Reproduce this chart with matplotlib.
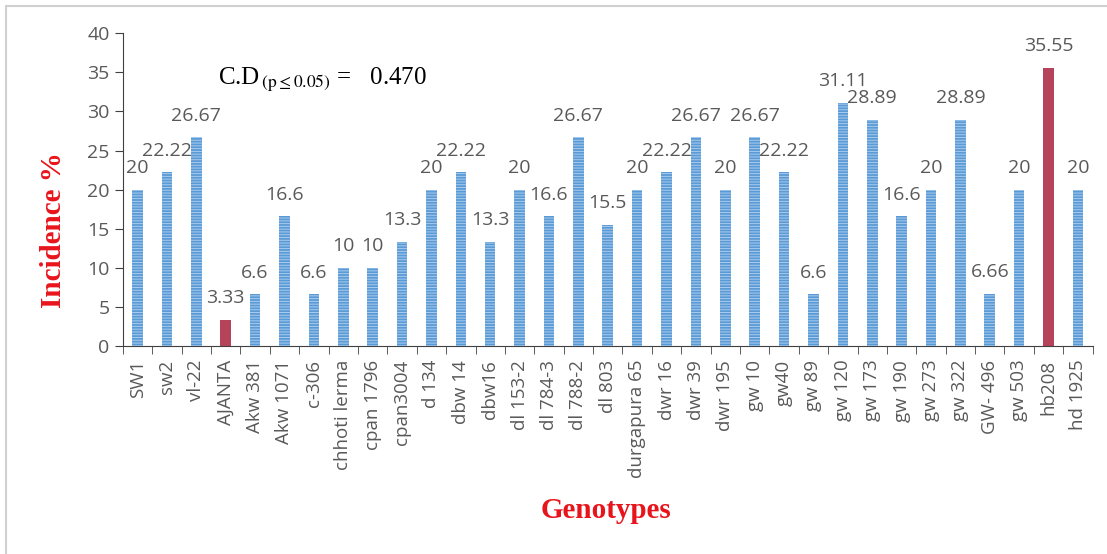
import matplotlib
matplotlib.use('Agg')
import matplotlib.pyplot as plt
from matplotlib.patches import Rectangle

genotypes = ['SW1', 'sw2', 'vl-22', 'AJANTA', 'Akw 381', 'Akw 1071', 'c-306',
             'chhoti lerma', 'cpan 1796', 'cpan3004', 'd 134', 'dbw 14', 'dbw16',
             'dl 153-2', 'dl 784-3', 'dl 788-2', 'dl 803', 'durgapura 65', 'dwr 16',
             'dwr 39', 'dwr 195', 'gw 10', 'gw40', 'gw 89', 'gw 120', 'gw 173',
             'gw 190', 'gw 273', 'gw 322', 'GW- 496', 'gw 503', 'hb208', 'hd 1925']
incidence = [20, 22.22, 26.67, 3.33, 6.6, 16.6, 6.6, 10, 10, 13.3, 20, 22.22, 13.3,
             20, 16.6, 26.67, 15.5, 20, 22.22, 26.67, 20, 26.67, 22.22, 6.6, 31.11,
             28.89, 16.6, 20, 28.89, 6.66, 20, 35.55, 20]
value_labels = ['20', '22.22', '26.67', '3.33', '6.6', '16.6', '6.6', '10', '10', '13.3',
                '20', '22.22', '13.3', '20', '16.6', '26.67', '15.5', '20', '22.22',
                '26.67', '20', '26.67', '22.22', '6.6', '31.11', '28.89', '16.6', '20',
                '28.89', '6.66', '20', '35.55', '20']
highlight = ['AJANTA', 'hb208']

blue = '#5b9bd5'
red = '#b5435a'
gray = '#595959'

plt.rcParams['mathtext.fontset'] = 'stix'

fig = plt.figure(figsize=(11.07, 5.54), dpi=100)
ax = fig.add_axes([0.111, 0.3755, 0.876, 0.5645])

x = list(range(len(genotypes)))
colors = [red if g in highlight else blue for g in genotypes]
ax.bar(x, incidence, width=0.36, color=colors, linewidth=0, zorder=2)
# light horizontal stripes on the blue bars
plt.rcParams['hatch.linewidth'] = 0.7
for xi, v, g in zip(x, incidence, genotypes):
    if g not in highlight:
        ax.bar(xi, v, width=0.36, facecolor='none', edgecolor='#a9cbee',
               hatch='------', linewidth=0, zorder=3)

for xi, v, lab in zip(x, incidence, value_labels):
    ax.annotate(lab, (xi, v), xytext=(0, 12), textcoords='offset points',
                ha='center', va='baseline', fontsize=14, color=gray,
                family='Open Sans')

ax.set_xlim(-0.5, len(genotypes) - 0.5)
ax.set_ylim(0, 40)
ax.set_yticks(range(0, 41, 5))
ax.set_xticks(x)
ax.set_xticklabels(genotypes, rotation=90, fontsize=13.5, color=gray, family='Open Sans')
ax.set_xticks([i - 0.5 for i in range(len(genotypes) + 1)], minor=True)
ax.tick_params(axis='x', which='major', length=0, pad=10)
ax.tick_params(axis='x', which='minor', length=6, direction='out', color='#404040')
ax.tick_params(axis='y', length=6, direction='out', color='#404040', labelsize=14,
               labelcolor=gray)
for t in ax.get_yticklabels():
    t.set_family('Open Sans')
for s in ['top', 'right']:
    ax.spines[s].set_visible(False)
ax.spines['left'].set_color('#404040')
ax.spines['bottom'].set_color('#404040')

ax.text(0.098, 0.834, r'C.D$_{\,(\mathrm{p}\leq 0.05)}$ =   0.470', transform=ax.transAxes,
        fontsize=18, family='Liberation Serif', color='black', va='baseline')

fig.text(0.048, 0.585, 'Incidence %', rotation=90, ha='center', va='center',
         fontsize=21, fontweight='bold', color='#e8141c', family='Liberation Serif')
fig.text(0.547, 0.079, 'Genotypes', ha='center', va='center',
         fontsize=21, fontweight='bold', color='#e8141c', family='Liberation Serif')

fig.patches.append(Rectangle((0.005, -0.02), 1.2, 1.01, transform=fig.transFigure,
                             fill=False, edgecolor='#d0d0d0', linewidth=1.5))

fig.savefig('out.png', dpi=100)
